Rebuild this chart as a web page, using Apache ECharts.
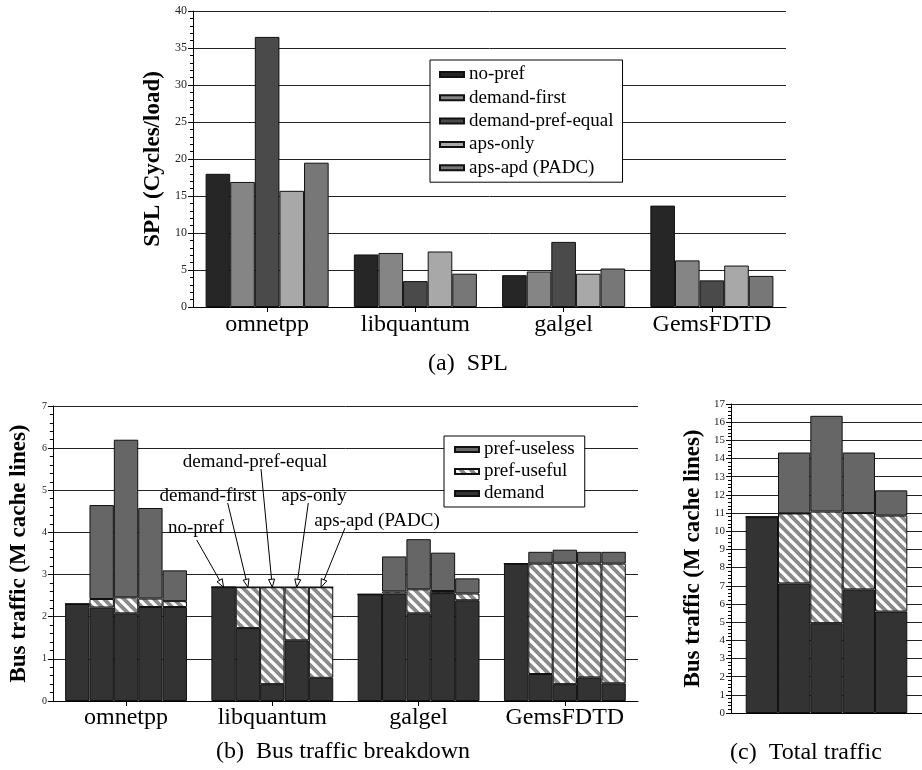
<!DOCTYPE html>
<html>
<head>
<meta charset="utf-8">
<script src="https://cdn.jsdelivr.net/npm/echarts@6/dist/echarts.min.js"></script>
<style>
html,body{margin:0;padding:0;background:#fff;}
#main{width:922px;height:770px;}
</style>
</head>
<body>
<div id="main"></div>
<script>
// ---------------- DATA ----------------
const schemes = ['no-pref', 'demand-first', 'demand-pref-equal', 'aps-only', 'aps-apd (PADC)'];
const benchmarks = ['omnetpp', 'libquantum', 'galgel', 'GemsFDTD'];
const components = ['demand', 'pref-useful', 'pref-useless'];

// (a) SPL, one array per scheme, values per benchmark
const splNoPref          = [18.0, 7.1, 4.3, 13.7];
const splDemandFirst     = [16.9, 7.3, 4.8, 6.3];
const splDemandPrefEqual = [36.5, 3.5, 8.8, 3.6];
const splApsOnly         = [15.7, 7.5, 4.5, 5.6];
const splApsApd          = [19.5, 4.5, 5.2, 4.2];
const splTicks = [0, 5, 10, 15, 20, 25, 30, 35, 40];

// (b) Bus traffic breakdown: rows = scheme, columns = benchmark
const busDemand = [
  [2.30, 2.70, 2.53, 3.26],
  [2.22, 1.73, 2.55, 0.64],
  [2.08, 0.40, 2.08, 0.40],
  [2.23, 1.44, 2.56, 0.56],
  [2.23, 0.55, 2.39, 0.42]
];
const busUseful = [
  [0.00, 0.00, 0.00, 0.00],
  [0.20, 0.97, 0.05, 2.62],
  [0.38, 2.30, 0.57, 2.88],
  [0.20, 1.26, 0.05, 2.70],
  [0.14, 2.15, 0.16, 2.84]
];
const busUseless = [
  [0.00, 0.00, 0.00, 0.00],
  [2.23, 0.00, 0.83, 0.28],
  [3.74, 0.00, 1.19, 0.31],
  [2.15, 0.00, 0.91, 0.28],
  [0.73, 0.00, 0.36, 0.28]
];
const busTicks = [0, 1, 2, 3, 4, 5, 6, 7];

// (c) Total traffic: values per scheme
const totalDemand  = [10.78, 7.13, 4.94, 6.80, 5.58];
const totalUseful  = [0.00, 3.85, 6.14, 4.20, 5.28];
const totalUseless = [0.00, 3.35, 5.27, 3.33, 1.39];

// ---------------- STYLE ----------------
const FONT = '"Liberation Serif", "Times New Roman", serif';
const splColors = ['#262626', '#858585', '#4a4a4a', '#a8a8a8', '#777777'];
const demandColor = '#333333';
const uselessColor = '#666666';

function makeStripe() {
  const c = document.createElement('canvas');
  const s = 10;
  c.width = s; c.height = s;
  const ctx = c.getContext('2d');
  ctx.fillStyle = '#8a8a8a';
  ctx.fillRect(0, 0, s, s);
  ctx.strokeStyle = '#ffffff';
  ctx.lineWidth = 3.2;
  for (let k = -1; k <= 1; k++) {
    ctx.beginPath();
    ctx.moveTo(-2 + k * s, -2);
    ctx.lineTo(s + 2 + k * s, s + 2);
    ctx.stroke();
  }
  return c;
}
const stripe = { image: makeStripe(), repeat: 'repeat' };
const compColors = [demandColor, stripe, uselessColor];

const border = { borderColor: '#111', borderWidth: 1 };

const chart = echarts.init(document.getElementById('main'), null, { renderer: 'canvas' });

const splData = [splNoPref, splDemandFirst, splDemandPrefEqual, splApsOnly, splApsApd];
const busData = [busDemand, busUseful, busUseless];
const totalData = [totalDemand, totalUseful, totalUseless];

const series = [];
// (a)
schemes.forEach((s, i) => {
  series.push({
    type: 'bar', name: s, xAxisIndex: 0, yAxisIndex: 0,
    data: splData[i],
    barGap: '0%', barCategoryGap: '17%',
    itemStyle: Object.assign({ color: splColors[i] }, border),
    emphasis: { disabled: true }
  });
});
// (b)
schemes.forEach((s, i) => {
  components.forEach((comp, c) => {
    series.push({
      type: 'bar', name: comp, xAxisIndex: 1, yAxisIndex: 1,
      stack: 'b-' + s,
      data: busData[c][i],
      barGap: '0%', barCategoryGap: '16.7%',
      itemStyle: Object.assign({ color: compColors[c] }, border),
      emphasis: { disabled: true }
    });
  });
});
// (c)
schemes.forEach((s, i) => {
  components.forEach((comp, c) => {
    series.push({
      type: 'bar', name: comp, xAxisIndex: 2, yAxisIndex: 2,
      stack: 'c-' + s,
      data: [totalData[c][i]],
      barGap: '0%', barCategoryGap: '15.4%',
      itemStyle: Object.assign({ color: compColors[c] }, border),
      emphasis: { disabled: true }
    });
  });
});

const axisLineStyle = { lineStyle: { color: '#000', width: 1 } };
const splitLineStyle = { show: true, lineStyle: { color: '#222', width: 1 } };
const nameStyle = { fontFamily: FONT, fontWeight: 'bold', fontSize: 23, color: '#000' };

function yAxis(gi, max, interval, nameGap, labelSize, name) {
  return {
    type: 'value', gridIndex: gi, min: 0, max: max, interval: interval,
    name: name, nameLocation: 'middle', nameGap: nameGap, nameRotate: 90,
    nameTextStyle: nameStyle,
    axisLine: Object.assign({ show: true }, axisLineStyle),
    axisTick: { show: true, length: 5, lineStyle: { color: '#000' } },
    minorTick: { show: true, splitNumber: 5, length: 3, lineStyle: { color: '#000' } },
    axisLabel: { fontFamily: FONT, fontSize: labelSize, color: '#222', margin: 6 },
    splitLine: splitLineStyle
  };
}

const option = {
  animation: false,
  backgroundColor: '#fff',
  grid: [
    { left: 193, top: 11, right: 136, bottom: 463 },
    { left: 49, top: 406, right: 284, bottom: 69 },
    { left: 731, top: 404, right: 0, bottom: 57 }
  ],
  xAxis: [
    { type: 'category', gridIndex: 0, data: benchmarks,
      axisLine: Object.assign({ show: true }, axisLineStyle),
      axisTick: { show: true, alignWithLabel: true, length: 5, lineStyle: { color: '#000' } },
      axisLabel: { interval: 0, fontFamily: FONT, fontSize: 24, color: '#000', margin: 6 } },
    { type: 'category', gridIndex: 1, data: benchmarks,
      axisLine: Object.assign({ show: true }, axisLineStyle),
      axisTick: { show: true, alignWithLabel: true, length: 5, lineStyle: { color: '#000' } },
      axisLabel: { interval: 0, fontFamily: FONT, fontSize: 24, color: '#000', margin: 5 } },
    { type: 'category', gridIndex: 2, data: ['total'],
      axisLine: Object.assign({ show: true }, axisLineStyle),
      axisTick: { show: false }, axisLabel: { show: false } }
  ],
  yAxis: [
    yAxis(0, 40, 5, 23, 12, 'SPL (Cycles/load)'),
    yAxis(1, 7, 1, 17, 10, 'Bus traffic (M cache lines)'),
    yAxis(2, 17, 1, 26, 11, 'Bus traffic (M cache lines)')
  ],
  legend: [
    { data: schemes, orient: 'vertical', left: 430, top: 60,
      selectedMode: false, icon: 'rect', itemWidth: 24, itemHeight: 5, itemGap: 4.3,
      padding: [5, 9], borderColor: '#000', borderWidth: 1, backgroundColor: '#fff',
      textStyle: { fontFamily: FONT, fontSize: 19, color: '#000' } },
    { data: ['pref-useless', 'pref-useful', 'demand'], orient: 'vertical', left: 444, top: 436,
      selectedMode: false, icon: 'rect', itemWidth: 24, itemHeight: 5, itemGap: 3,
      padding: [4, 10], borderColor: '#000', borderWidth: 1, backgroundColor: '#fff',
      textStyle: { fontFamily: FONT, fontSize: 19, color: '#000' } }
  ],
  series: series
};
chart.setOption(option);

// ---------------- ANNOTATIONS ----------------
const captionFont = '24px ' + FONT;
const annFont = '19px ' + FONT;
function textEl(text, x, y, font) {
  return { type: 'text', silent: true, z: 100,
    style: { text: text, x: x, y: y, font: font, fill: '#000',
             textAlign: 'center', textVerticalAlign: 'middle', align: 'center', verticalAlign: 'middle' } };
}
const graphics = [
  textEl('(a)  SPL', 468, 364, captionFont),
  textEl('(b)  Bus traffic breakdown', 343, 752, captionFont),
  textEl('(c)  Total traffic', 806, 753, captionFont)
];

// label text centre and arrow start (layout only); arrow end = top of the libquantum bar
const annLabels = [
  { text: 'no-pref',           tx: 196, ty: 528, sx: 196.7, sy: 540 },
  { text: 'demand-first',      tx: 208, ty: 496, sx: 227.7, sy: 503 },
  { text: 'demand-pref-equal', tx: 255, ty: 462, sx: 261,   sy: 469 },
  { text: 'aps-only',          tx: 314, ty: 496, sx: 308.3, sy: 503 },
  { text: 'aps-apd (PADC)',    tx: 377, ty: 521, sx: 345,   sy: 528 }
];
const model = chart.getModel();
annLabels.forEach((a, i) => {
  graphics.push(textEl(a.text, a.tx, a.ty, annFont));
  const sIdx = 5 + i * 3 + 2; // top-most (pref-useless) series of this scheme in (b)
  const lay = model.getSeriesByIndex(sIdx).getData().getItemLayout(1);
  const ex = lay.x + lay.width / 2;
  const ey = Math.min(lay.y, lay.y + lay.height);
  const dx = ex - a.sx, dy = ey - a.sy;
  const len = Math.sqrt(dx * dx + dy * dy);
  const ux = dx / len, uy = dy / len;
  const hl = 8, hw = 3;
  const bx = ex - ux * hl, by = ey - uy * hl;
  graphics.push({ type: 'line', silent: true, z: 100,
    shape: { x1: a.sx, y1: a.sy, x2: bx, y2: by },
    style: { stroke: '#000', lineWidth: 1 } });
  graphics.push({ type: 'polygon', silent: true, z: 100,
    shape: { points: [[ex, ey], [bx - uy * hw, by + ux * hw], [bx + uy * hw, by - ux * hw]] },
    style: { fill: '#fff', stroke: '#000', lineWidth: 1 } });
});
chart.setOption({ graphic: graphics });
</script>
</body>
</html>
